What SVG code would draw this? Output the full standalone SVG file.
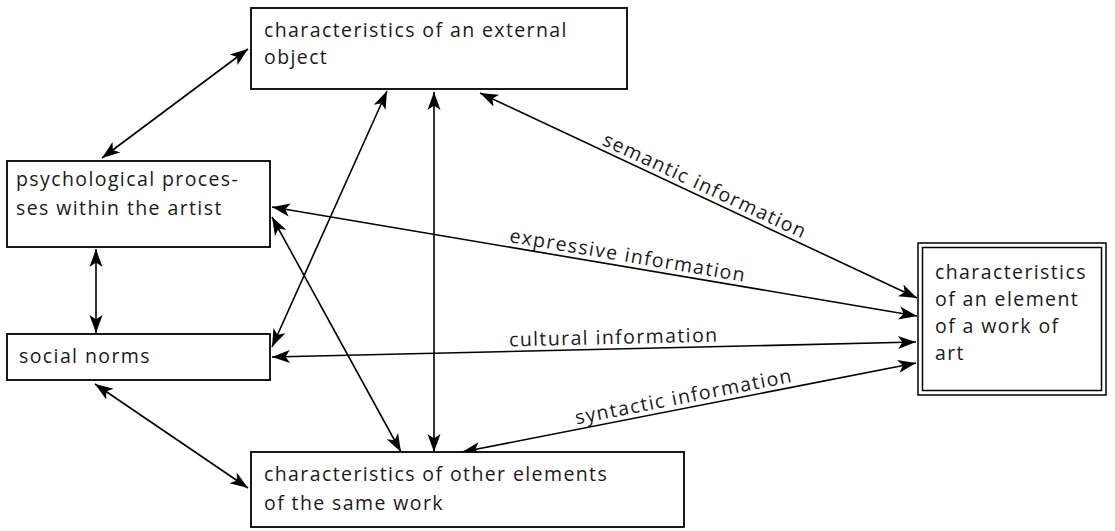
<svg xmlns="http://www.w3.org/2000/svg" width="1115" height="531" viewBox="0 0 1115 531">
<style>
.box{fill:#fff;stroke:#000;stroke-width:1.8}
.dbl{fill:none;stroke:#000;stroke-width:1.5}
text{font-family:"Open Sans","DejaVu Sans",sans-serif;font-size:19.5px;letter-spacing:1.4px;fill:#1a1a1a}
.lbl{text-anchor:middle}
.conn line{stroke:#000;stroke-width:1.6;marker-start:url(#ah);marker-end:url(#ah)}
</style>
<defs>
<marker id="ah" markerUnits="userSpaceOnUse" viewBox="-20 -8 22 16" refX="0" refY="0" markerWidth="22" markerHeight="16" orient="auto-start-reverse">
<path d="M0,0 L-18,-6.5 L-13.5,0 L-18,6.5 Z" fill="#000"/>
</marker>
</defs>
<g id="connectors" class="conn">
<line x1="102" y1="158" x2="248" y2="49"/>
<line x1="96" y1="249" x2="96" y2="333"/>
<line x1="272" y1="347" x2="387" y2="91"/>
<line x1="272" y1="217" x2="401" y2="452"/>
<line x1="434" y1="92" x2="434" y2="452"/>
<line x1="480" y1="93" x2="917" y2="298"/>
<line x1="272" y1="207" x2="917" y2="316"/>
<line x1="272" y1="357" x2="916" y2="342"/>
<line x1="462" y1="452" x2="916" y2="363"/>
<line x1="95" y1="384" x2="248" y2="488"/>
</g>
<g id="labels">
<text class="lbl" transform="translate(700,196.2) rotate(25.1)" x="0" y="-5">semantic information</text>
<text class="lbl" transform="translate(626,266.8) rotate(9.6)" x="0" y="-5">expressive information</text>
<text class="lbl" transform="translate(614,349) rotate(-1.33)" x="0" y="-5">cultural information</text>
<text class="lbl" transform="translate(686,408) rotate(-11.1)" x="0" y="-5">syntactic information</text>
</g>
<g id="node-external">
<rect class="box" x="251" y="8" width="376" height="81"/>
<text x="264" y="37">characteristics of an external</text>
<text x="264" y="64">object</text>
</g>
<g id="node-psych">
<rect class="box" x="7" y="161" width="263" height="86"/>
<text x="16" y="186">psychological proces-</text>
<text x="16" y="215">ses within the artist</text>
</g>
<g id="node-social">
<rect class="box" x="7" y="334" width="263" height="46"/>
<text x="19" y="363">social norms</text>
</g>
<g id="node-other">
<rect class="box" x="251" y="452" width="433" height="75"/>
<text x="264" y="481">characteristics of other elements</text>
<text x="264" y="510">of the same work</text>
</g>
<g id="node-element">
<rect class="dbl" x="918" y="243" width="188" height="152"/>
<rect class="dbl" x="922.5" y="247.5" width="179" height="143"/>
<text x="935" y="279">characteristics</text>
<text x="935" y="306">of an element</text>
<text x="935" y="333">of a work of</text>
<text x="935" y="360">art</text>
</g>
</svg>
